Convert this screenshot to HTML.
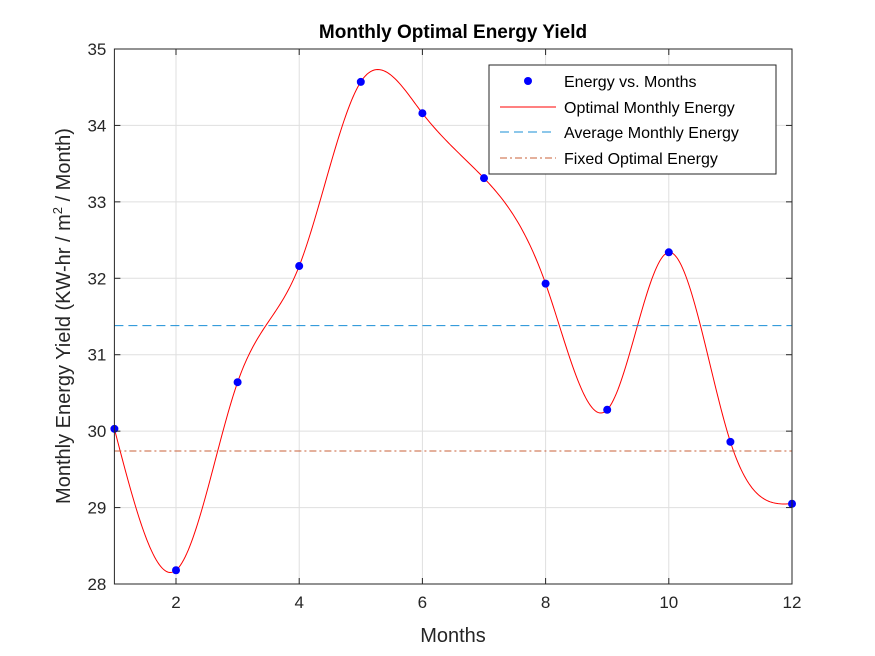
<!DOCTYPE html>
<html><head><meta charset="utf-8"><style>
body{margin:0;background:#fff;}
svg{display:block;font-family:"Liberation Sans",Arial,sans-serif;}
</style></head><body>
<svg id="chart" width="875" height="656">
<rect width="875" height="656" fill="#fff"/>
<g id="grid"></g>
<g id="plot"></g>
<g id="axes"></g>
<text x="453" y="38" text-anchor="middle" font-size="19" font-weight="bold" fill="#000">Monthly Optimal Energy Yield</text>
<text x="453" y="642" text-anchor="middle" font-size="20" fill="#262626">Months</text>
<text transform="translate(70,316) rotate(-90)" text-anchor="middle" font-size="20" fill="#262626">Monthly Energy Yield (KW-hr / m<tspan font-size="13" dy="-8">2</tspan><tspan dy="8"> / Month)</tspan></text>
<g>
<rect x="489" y="65" width="287" height="109" fill="#fff" stroke="#262626" stroke-width="1"/>
<circle cx="528" cy="81" r="4" fill="#0000ff"/>
<text x="564" y="87" font-size="16" fill="#000">Energy vs. Months</text>
<line x1="500" y1="107" x2="556" y2="107" stroke="#ff0000"/>
<text x="564" y="113" font-size="16" fill="#000">Optimal Monthly Energy</text>
<line x1="500" y1="132" x2="556" y2="132" stroke="#1a8fd6" stroke-dasharray="9,5"/>
<text x="564" y="138" font-size="16" fill="#000">Average Monthly Energy</text>
<line x1="500" y1="158" x2="556" y2="158" stroke="#c8603a" stroke-dasharray="7,3,2,3"/>
<text x="564" y="164" font-size="16" fill="#000">Fixed Optimal Energy</text>
</g>
</svg>
<script>
const months=[1,2,3,4,5,6,7,8,9,10,11,12];
const energy=[30.03,28.18,30.64,32.16,34.57,34.16,33.31,31.93,30.28,32.34,29.86,29.05];
const averageEnergy=31.38;
const fixedEnergy=29.74;
const xTicks=[2,4,6,8,10,12];
const yTicks=[28,29,30,31,32,33,34,35];
const X0=114.4,X1=792,Y0=584,Y1=49,xmin=1,xmax=12,ymin=28,ymax=35;
const sx=v=>X0+(v-xmin)/(xmax-xmin)*(X1-X0);
const sy=v=>Y0-(v-ymin)/(ymax-ymin)*(Y0-Y1);
const NS="http://www.w3.org/2000/svg";
function mk(t,a,p){const e=document.createElementNS(NS,t);for(const k in a)e.setAttribute(k,a[k]);p.appendChild(e);return e;}
const grid=document.getElementById('grid'),plot=document.getElementById('plot'),axes=document.getElementById('axes');
xTicks.forEach(v=>{const l=mk('line',{x1:sx(v),x2:sx(v),y1:Y1,y2:Y0,stroke:'#dfdfdf'},grid);

});
yTicks.forEach(v=>{const l=mk('line',{x1:X0,x2:X1,y1:sy(v),y2:sy(v),stroke:'#dfdfdf'},grid);

});
const n=months.length,h=[],al=[0],l=[1],mu=[0],z=[0],c=new Array(n).fill(0),b=[],d=[];
for(let i=0;i<n-1;i++)h.push(months[i+1]-months[i]);
for(let i=1;i<n-1;i++)al.push(3/h[i]*(energy[i+1]-energy[i])-3/h[i-1]*(energy[i]-energy[i-1]));
for(let i=1;i<n-1;i++){l[i]=2*(months[i+1]-months[i-1])-h[i-1]*mu[i-1];mu[i]=h[i]/l[i];z[i]=(al[i]-h[i-1]*z[i-1])/l[i];}
for(let j=n-2;j>=0;j--){c[j]=(j<n-1&&j>0?z[j]-mu[j]*c[j+1]:0);b[j]=(energy[j+1]-energy[j])/h[j]-h[j]*(c[j+1]+2*c[j])/3;d[j]=(c[j+1]-c[j])/(3*h[j]);}
let dstr='';
for(let j=0;j<n-1;j++)for(let k=0;k<=40;k++){const t=k/40*h[j],v=energy[j]+b[j]*t+c[j]*t*t+d[j]*t*t*t;dstr+=(dstr?'L':'M')+sx(months[j]+t).toFixed(2)+','+sy(v).toFixed(2);}
const cur=mk('path',{d:dstr,fill:'none',stroke:'#ff0000','stroke-width':1},plot);


const av=mk('line',{x1:X0,x2:X1,y1:sy(averageEnergy),y2:sy(averageEnergy),stroke:'#1a8fd6','stroke-dasharray':'9,5'},plot);


const fx=mk('line',{x1:X0,x2:X1,y1:sy(fixedEnergy),y2:sy(fixedEnergy),stroke:'#c8603a','stroke-dasharray':'7,3,2,3'},plot);


months.forEach((m,i)=>{const p=mk('circle',{cx:sx(m),cy:sy(energy[i]),r:4,fill:'#0000ff'},plot);

});
const box=mk('rect',{x:X0,y:Y1,width:X1-X0,height:Y0-Y1,fill:'none',stroke:'#262626'},axes);


xTicks.forEach(v=>{mk('line',{x1:sx(v),x2:sx(v),y1:Y0,y2:Y0-6,stroke:'#262626'},axes);mk('line',{x1:sx(v),x2:sx(v),y1:Y1,y2:Y1+6,stroke:'#262626'},axes);
const t=mk('text',{x:sx(v),y:Y0+24,'text-anchor':'middle','font-size':17,fill:'#262626'},axes);t.textContent=v;

});
yTicks.forEach(v=>{mk('line',{x1:X0,x2:X0+6,y1:sy(v),y2:sy(v),stroke:'#262626'},axes);mk('line',{x1:X1,x2:X1-6,y1:sy(v),y2:sy(v),stroke:'#262626'},axes);
const t=mk('text',{x:X0-8,y:sy(v)+6,'text-anchor':'end','font-size':17,fill:'#262626'},axes);t.textContent=v;

});
</script>
</body></html>
